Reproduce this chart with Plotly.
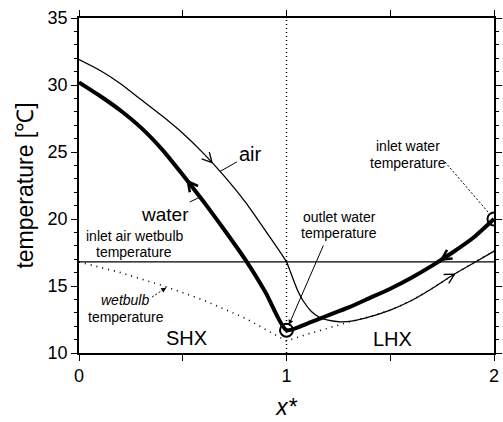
import numpy as np
import plotly.graph_objects as go

# ---------------- data ----------------
x_shx = [0.0, 0.1, 0.2, 0.3, 0.4, 0.5, 0.6, 0.7, 0.8, 0.9, 1.0]
water_shx = [30.2, 29.2, 28.1, 26.8, 25.2, 23.3, 21.3, 19.2, 17.0, 14.5, 11.7]
air_shx = [31.9, 31.1, 30.1, 28.9, 27.7, 26.4, 24.9, 23.2, 21.3, 19.1, 16.8]

x_water_lhx = [1.0, 1.1, 1.2, 1.3, 1.4, 1.5, 1.6, 1.7, 1.8, 1.9, 2.0]
water_lhx = [11.7, 12.2, 12.8, 13.4, 14.1, 14.8, 15.6, 16.5, 17.5, 18.6, 20.0]

x_air_lhx = [1.0, 1.02, 1.05, 1.08, 1.12, 1.16, 1.2, 1.26, 1.32, 1.4, 1.5, 1.6, 1.7, 1.8, 1.9, 2.0]
air_lhx = [16.8, 16.0, 14.8, 13.9, 13.1, 12.65, 12.45, 12.33, 12.4, 12.7, 13.2, 13.9, 14.8, 15.8, 16.7, 17.6]

x_wetbulb = [0.0, 0.2, 0.4, 0.6, 0.8, 1.0, 1.1, 1.2, 1.32, 1.4, 1.5, 1.6, 1.7, 1.8, 1.9, 2.0]
wetbulb = [16.8, 16.0, 15.05, 13.95, 12.6, 10.9, 11.4, 11.85, 12.4, 12.7, 13.2, 13.9, 14.8, 15.8, 16.7, 17.6]

inlet_air_wetbulb = 16.8
x_boundary = 1.0
x_ticks = [0, 0.5, 1, 1.5, 2]
x_ticktext = ["0", "", "1", "", "2"]
y_ticks = [10, 15, 20, 25, 30, 35]

# ---------------- layout geometry ----------------
W, H = 503, 422
ML, MR, MT, MB = 79, 9, 18, 69
XR = (0, 2)
YR = (10, 35)
PW = W - ML - MR
PH = H - MT - MB
sx = PW / (XR[1] - XR[0])  # px per x unit
sy = PH / (YR[1] - YR[0])  # px per y unit

FONT = "Liberation Sans, Arial, Helvetica, sans-serif"

water_x = x_shx + x_water_lhx[1:]
water_y = water_shx + water_lhx[1:]
air_x = x_shx + x_air_lhx[1:]
air_y = air_shx + air_lhx[1:]


def chevron(xs, ys, x0, forward=True, length=11, ang=28):
    xs = np.asarray(xs, float)
    ys = np.asarray(ys, float)
    y0 = np.interp(x0, xs, ys)
    d = 0.01
    y1 = np.interp(x0 + d, xs, ys)
    ym = np.interp(x0 - d, xs, ys)
    dxp = 2 * d * sx
    dyp = (y1 - ym) * sy
    v = np.array([dxp, dyp])
    v = v / np.linalg.norm(v)
    if not forward:
        v = -v
    pts_x, pts_y = [], []
    for sgn in (1, -1):
        a = np.deg2rad(ang * sgn)
        r = np.array([v[0] * np.cos(a) - v[1] * np.sin(a),
                      v[0] * np.sin(a) + v[1] * np.cos(a)])
        end = -r * length
        pts_x.append(x0 + end[0] / sx)
        pts_y.append(y0 + end[1] / sy)
    return [pts_x[0], x0, pts_x[1]], [pts_y[0], y0, pts_y[1]]


fig = go.Figure()

# wetbulb (dotted)
fig.add_trace(go.Scatter(x=x_wetbulb, y=wetbulb, mode="lines",
                         line=dict(color="black", width=1.6, dash="1px,5px"),
                         showlegend=False, hoverinfo="skip"))
# inlet air wetbulb horizontal line
fig.add_trace(go.Scatter(x=[XR[0], XR[1]], y=[inlet_air_wetbulb, inlet_air_wetbulb],
                         mode="lines", line=dict(color="black", width=1.2),
                         showlegend=False, hoverinfo="skip"))
# air (thin)
fig.add_trace(go.Scatter(x=air_x, y=air_y, mode="lines", name="air",
                         line=dict(color="black", width=1.3, shape="spline", smoothing=0.6),
                         showlegend=False))
# water (thick)
fig.add_trace(go.Scatter(x=water_x, y=water_y, mode="lines", name="water",
                         line=dict(color="black", width=4, shape="spline", smoothing=0.6),
                         showlegend=False))
# circles at outlet / inlet water
fig.add_trace(go.Scatter(x=[x_water_lhx[0], x_water_lhx[-1]], y=[water_lhx[0], water_lhx[-1]],
                         mode="markers",
                         marker=dict(symbol="circle-open", size=13, color="black",
                                     line=dict(width=2, color="black")),
                         showlegend=False, hoverinfo="skip"))

# flow-direction chevrons
for xs, ys, x0, fwd, lw in [
    (air_x, air_y, 0.641, True, 1.3),
    (water_x, water_y, 0.525, False, 2.5),
    (water_x, water_y, 1.748, False, 2.5),
    (air_x, air_y, 1.81, True, 1.3),
]:
    cx, cy = chevron(xs, ys, x0, fwd)
    fig.add_trace(go.Scatter(x=cx, y=cy, mode="lines",
                             line=dict(color="black", width=lw),
                             showlegend=False, hoverinfo="skip"))

# vertical boundary (dotted)
fig.add_shape(type="line", xref="x", yref="y", x0=x_boundary, x1=x_boundary,
              y0=YR[0], y1=YR[1], line=dict(color="black", width=1.5, dash="1px,3px"))


def txt(xp, yp, text, size=14, italic=False):
    # position given in page pixels -> paper coords
    fig.add_annotation(xref="paper", yref="paper",
                       x=(xp - ML) / PW, y=1 - (yp - MT) / PH,
                       text=("<i>%s</i>" % text) if italic else text,
                       showarrow=False, xanchor="center", yanchor="middle",
                       font=dict(family=FONT, size=size, color="black"))


# labelled leaders (solid line from label to curve)
def leader(xs, ys, x0, dx_px, dy_px, text, size):
    y0 = float(np.interp(x0, xs, ys))
    fig.add_annotation(x=x0, y=y0, xref="x", yref="y", ax=dx_px, ay=dy_px,
                       text=text, showarrow=True, arrowhead=0, arrowwidth=1,
                       arrowcolor="black",
                       font=dict(family=FONT, size=size, color="black"))


leader(air_x, air_y, (220 - ML) / sx, 30, -17, "air", 20)
leader(water_x, water_y, (200 - ML) / sx, -35, 17, "water", 19)

txt(134, 236, "inlet air wetbulb", 14)
txt(134, 252, "temperature", 14)
txt(125, 300, "wetbulb", 14, italic=True)
txt(126, 317, "temperature", 14)
txt(186, 338, "SHX", 20)
txt(392, 339, "LHX", 20)
txt(339, 217, "outlet water", 14)
txt(339, 233, "temperature", 14)
txt(408, 146, "inlet water", 14)
txt(408, 163, "temperature", 14)

# outlet water arrow (solid)
fig.add_annotation(x=x_water_lhx[0], y=water_lhx[0], xref="x", yref="y",
                   ax=324 - (ML + sx * (x_water_lhx[0] - XR[0])),
                   ay=244 - (MT + sy * (YR[1] - water_lhx[0])),
                   text="", showarrow=True, arrowhead=2, arrowsize=1,
                   arrowwidth=1, arrowcolor="black", standoff=6)


# dashed leaders with arrowheads
def dashed_leader(x_tip, y_tip, dx_px, dy_px, standoff):
    tx = ML + sx * (x_tip - XR[0])
    ty = MT + sy * (YR[1] - y_tip)
    vx, vy = -dx_px, -dy_px
    n = np.hypot(vx, vy)
    ux, uy = vx / n, vy / n
    ex, ey = tx - ux * standoff, ty - uy * standoff
    sxp, syp = tx + dx_px, ty + dy_px
    fig.add_shape(type="line", xref="x", yref="y",
                  x0=XR[0] + (sxp - ML) / sx, y0=YR[1] - (syp - MT) / sy,
                  x1=XR[0] + (ex - ML) / sx, y1=YR[1] - (ey - MT) / sy,
                  line=dict(color="black", width=1, dash="2px,2px"))
    fig.add_annotation(x=x_tip, y=y_tip, xref="x", yref="y",
                       ax=-ux * 8, ay=-uy * 8, text="", showarrow=True,
                       arrowhead=2, arrowsize=1, arrowwidth=1,
                       arrowcolor="black", standoff=standoff)


x_wb_tip = (167 - ML) / sx
dashed_leader(x_wb_tip, float(np.interp(x_wb_tip, x_wetbulb, wetbulb)), -15, 10, 1)
dashed_leader(x_water_lhx[-1], water_lhx[-1], -49, -57, 7)

axis_common = dict(showline=True, linecolor="black", linewidth=1.5, mirror="allticks",
                   ticks="outside", tickcolor="black", tickwidth=1.2, ticklen=6,
                   showgrid=False, zeroline=False, automargin=False,
                   tickfont=dict(family=FONT, size=18, color="black"))

fig.update_xaxes(range=list(XR), tickmode="array", tickvals=x_ticks, ticktext=x_ticktext,
                 title=dict(text="<i>x*</i>", font=dict(family=FONT, size=23, color="black"),
                            standoff=14),
                 **axis_common)
fig.update_yaxes(range=list(YR), tickmode="array", tickvals=y_ticks,
                 minor=dict(dtick=1, ticks="outside", ticklen=3, tickcolor="black", tickwidth=1),
                 title=dict(text="temperature [℃]",
                            font=dict(family=FONT, size=23, color="black"), standoff=8),
                 **axis_common)

fig.update_layout(width=W, height=H, margin=dict(l=ML, r=MR, t=MT, b=MB, autoexpand=False),
                  plot_bgcolor="white", paper_bgcolor="white", showlegend=False)

fig.write_html("out.html")
